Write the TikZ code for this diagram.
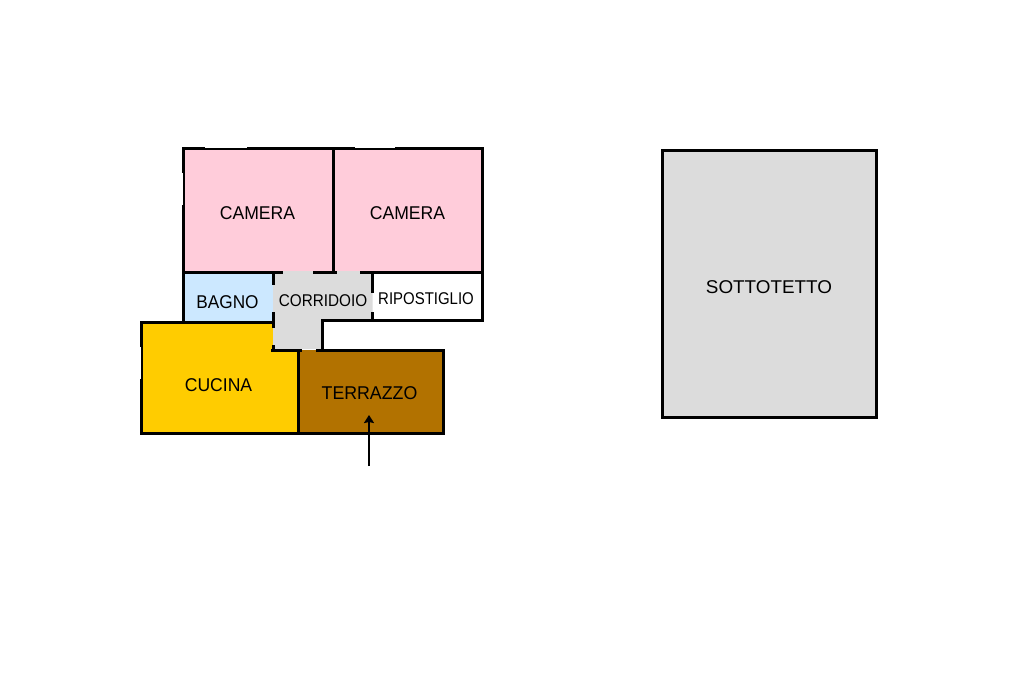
\documentclass[tikz,border=0pt]{standalone}
\usepackage{fontspec}
\setmainfont{Liberation Sans}
\usetikzlibrary{arrows.meta}
\definecolor{pinkroom}{RGB}{255,204,218}
\definecolor{blueroom}{RGB}{204,232,255}
\definecolor{yellowroom}{RGB}{255,204,0}
\definecolor{brownroom}{RGB}{178,114,0}
\definecolor{grayroom}{RGB}{220,220,220}
\tikzset{
  wall/.style={draw=black,line width=3pt,line cap=rect,line join=miter},
  wallb/.style={draw=black,line width=3pt},
  win/.style={draw=white,line width=.7pt},
  lab/.style={inner sep=0pt,text=black,font=\fontsize{18.5}{20}\selectfont},
  labn/.style={inner sep=0pt,text=black,font=\fontsize{17}{20}\selectfont},
}
\begin{document}
\begin{tikzpicture}[x=1pt,y=-1pt]
\useasboundingbox (0,0) rectangle (1024,682);
\fill[white] (0,0) rectangle (1024,682);
% fills
\fill[pinkroom] (183,148.5) rectangle (482.5,272.5);
\fill[blueroom] (183,272.5) rectangle (273,322.5);
\fill[white] (372.5,272.5) rectangle (482.5,320.5);
\fill[yellowroom] (141,322.5) -- (273,322.5) -- (273,350) -- (298.5,350) -- (298.5,433) -- (141,433) -- cycle;
\fill[brownroom] (298.5,350) rectangle (443,433);
\fill[grayroom] (273,271) -- (372.5,271) -- (372.5,320.5) -- (322.5,320.5) -- (322.5,349) -- (273,349) -- cycle;
% walls
\draw[wall] (183,322.5) -- (183,148.5) -- (482.5,148.5) -- (482.5,320.5) -- (322.5,320.5) -- (322.5,350);
\draw[wallb] (333,148.5) -- (333,272.5);
\draw[wallb] (183,272.5) -- (283,272.5);
\draw[wallb] (313,272.5) -- (337,272.5);
\draw[wallb] (360,272.5) -- (482.5,272.5);
\draw[wallb] (273,272.5) -- (273,285);
\draw[wallb] (273,312) -- (273,328);
\draw[wallb] (273,345) -- (273,351.4);
\draw[wallb] (372.5,272.5) -- (372.5,293);
\draw[wallb] (372.5,312) -- (372.5,320.5);
\draw[wall] (273,322.5) -- (141,322.5) -- (141,433) -- (443,433) -- (443,350.5) -- (317,350.5);
\draw[wallb] (271,350) -- (302,350);
\draw[wallb] (298.5,350) -- (298.5,433);
% sottotetto
\draw[wall,fill=grayroom] (662.5,150.5) rectangle (876.5,417);
% windows
\draw[win] (205,147.4) -- (247,147.4);
\draw[win] (355,147.4) -- (395,147.4);
\draw[win] (182,173) -- (182,205);
\draw[win] (140,347) -- (140,379);
% labels
\node[lab] (cam1) at (257.5,213.5) {\scalebox{.95}[1]{CAMERA}};
\node[lab] (cam2) at (407.5,213.5) {\scalebox{.95}[1]{CAMERA}};
\node[lab] (bagno) at (227.5,302.5) {\scalebox{.93}[1]{BAGNO}};
\node[labn] (corr) at (323,300.5) {\scalebox{.9}[1]{CORRIDOIO}};
\node[labn] (rip) at (426,298.5) {\scalebox{.88}[1]{RIPOSTIGLIO}};
\node[lab] (cuc) at (218.5,385.5) {\scalebox{.95}[1]{CUCINA}};
\node[lab] (ter) at (369.5,393.5) {\scalebox{.96}[1]{TERRAZZO}};
\node[lab] (sot) at (769,287.5) {\scalebox{1.02}[1]{SOTTOTETTO}};
% entrance arrow
\coordinate (arrowfoot) at (369,466);
\coordinate (arrowtip) at (369,415);
\draw[line width=2pt,-{Stealth[length=8pt,width=10pt,inset=1pt]}] (arrowfoot) -- (arrowtip);
\end{tikzpicture}
\end{document}
